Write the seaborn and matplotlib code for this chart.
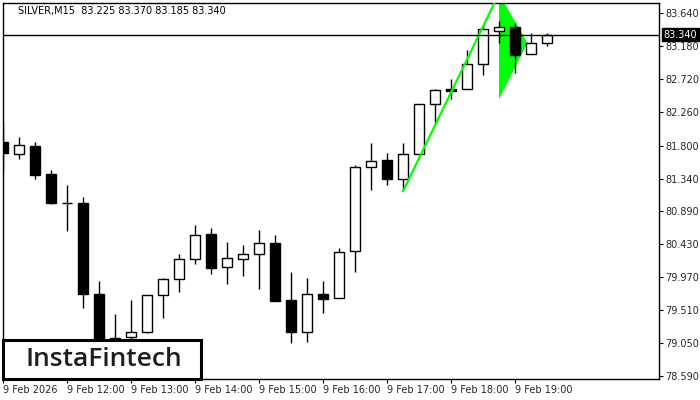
import numpy as np
import pandas as pd
import seaborn as sns
import matplotlib.pyplot as plt
from matplotlib.patches import Rectangle, Polygon

# SILVER M15 candles, 9 Feb 2026 11:00 .. 19:30
opens  = [81.846, 81.679, 81.794, 81.405, 80.995, 81.001, 79.731, 79.080, 79.141, 79.200,
          79.715, 79.940, 80.229, 80.570, 80.107, 80.218, 80.288, 80.445, 79.652, 79.203,
          79.731, 79.676, 80.329, 81.498, 81.595, 81.339, 81.679, 82.374, 82.580, 82.591,
          82.931, 83.398, 83.445, 83.070, 83.225]
highs  = [82.124, 81.915, 81.846, 81.456, 81.247, 81.081, 79.916, 79.457, 79.652, 79.720,
          79.951, 80.292, 80.695, 80.654, 80.459, 80.417, 80.626, 80.556, 80.041, 79.954,
          79.916, 80.371, 81.530, 81.832, 81.693, 81.832, 82.374, 82.587, 82.726, 83.130,
          83.477, 83.529, 83.509, 83.366, 83.370]
lows   = [81.437, 81.617, 81.335, 80.992, 80.616, 79.545, 78.930, 78.980, 79.080, 79.190,
          79.406, 79.767, 80.157, 80.018, 79.879, 79.986, 79.809, 79.642, 79.058, 79.072,
          79.475, 79.676, 80.046, 81.182, 81.256, 81.164, 81.679, 82.110, 82.448, 82.591,
          82.782, 83.223, 82.814, 83.070, 83.185]
closes = [81.693, 81.808, 81.395, 81.005, 81.000, 79.731, 79.020, 79.128, 79.203, 79.717,
          79.940, 80.218, 80.552, 80.101, 80.232, 80.288, 80.441, 79.642, 79.203, 79.731,
          79.662, 80.316, 81.498, 81.590, 81.339, 81.679, 82.374, 82.573, 82.565, 82.931,
          83.417, 83.445, 83.064, 83.223, 83.340]

time_labels = ['9 Feb 2026', '9 Feb 12:00', '9 Feb 13:00', '9 Feb 14:00', '9 Feb 15:00',
               '9 Feb 16:00', '9 Feb 17:00', '9 Feb 18:00', '9 Feb 19:00']
price_ticks = [83.640, 83.180, 82.720, 82.260, 81.800, 81.340, 80.890, 80.430,
               79.970, 79.510, 79.050, 78.590]
last_price = 83.340

# bullish pennant: pole and flag
pole_x = [25.0, 31.0]
pole_y = [81.164, 83.913]
flag_x = [31.0, 31.0, 32.78]
flag_y = [83.913, 82.444, 83.227]

df = pd.DataFrame({'o': opens, 'h': highs, 'l': lows, 'c': closes})
df['i'] = np.arange(len(df))

sns.set_style('white')
plt.rcParams['font.family'] = ['DejaVu Sans']

fig = plt.figure(figsize=(7, 4), dpi=100)
ax = fig.add_axes([3/700, 21/400, 656/700, 376.3/400])

# wicks
ax.vlines(df['i'], df['l'], df['h'], color='black', linewidth=1, zorder=2)
# bodies
up = df['c'] >= df['o']
body_h = (df['c'] - df['o']).abs().clip(lower=0.006)
body_b = df[['o', 'c']].min(axis=1)
ax.bar(df['i'][up], body_h[up], bottom=body_b[up], width=0.62, color='white',
       edgecolor='black', linewidth=1, zorder=3)
ax.bar(df['i'][~up], body_h[~up], bottom=body_b[~up], width=0.62, color='black',
       edgecolor='black', linewidth=1, zorder=3)

# pattern
sns.lineplot(x=pole_x, y=pole_y, ax=ax, color='#00ff00', linewidth=1.6, zorder=4)
ax.add_patch(Polygon(list(zip(flag_x, flag_y)), closed=True, facecolor='#00ff00',
                     edgecolor='none', zorder=1))

# last price line
ax.axhline(last_price, color='black', linewidth=1, zorder=5)

ax.set_xlim(0, 41)
ax.set_ylim(78.553, 83.787)

ax.yaxis.tick_right()
ax.set_yticks(price_ticks)
ax.set_yticklabels([f'{v:.3f}' for v in price_ticks], fontsize=7)
ax.set_xticks(np.arange(0, 33, 4))
ax.set_xticklabels(time_labels, fontsize=7, ha='left')
ax.tick_params(axis='both', length=3, width=0.8, color='black', pad=1.5,
               direction='out', bottom=True, right=True, left=False)
for s in ax.spines.values():
    s.set_color('black')
    s.set_linewidth(1)

ax.annotate(f'{last_price:.3f}', xy=(1.0, last_price),
            xycoords=ax.get_yaxis_transform(), xytext=(3.5, 0),
            textcoords='offset points', va='center', ha='left', fontsize=7,
            color='white', bbox=dict(boxstyle='square,pad=0.15', fc='black', ec='black'),
            annotation_clip=False, zorder=6)

fig.text(18/700, 1 - 10.7/400, 'SILVER,M15  83.225 83.370 83.185 83.340',
         fontsize=7, va='center', ha='left', color='black')

# logo
ax.add_patch(Rectangle((0.0, 0.0), 198/656, 39/376.3, transform=ax.transAxes,
                       facecolor='white', edgecolor='black', linewidth=2.2,
                       zorder=10, clip_on=False))
ax.text(0.153, 0.052, 'InstaFintech', transform=ax.transAxes, ha='center',
        va='center', fontsize=19, color='#1e1e1e', family=['Open Sans', 'DejaVu Sans'],
        weight='semibold', zorder=11)

fig.savefig('out.png', dpi=100)
